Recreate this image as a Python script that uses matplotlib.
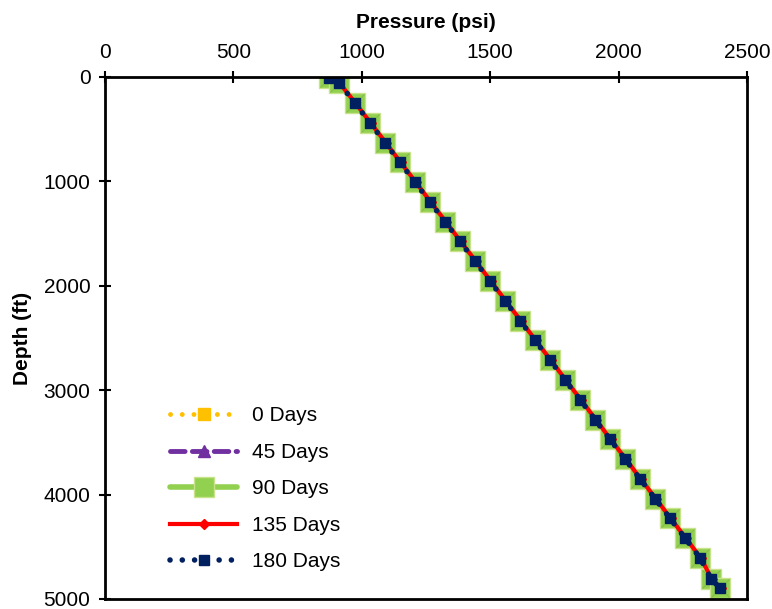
import matplotlib
matplotlib.use("Agg")
import matplotlib.pyplot as plt

plt.rcParams['font.family'] = ['Liberation Sans', 'DejaVu Sans']

# depth (ft) and pressure (psi)
depth = [10, 57, 249, 438, 628, 817, 1007, 1196, 1386, 1575, 1765, 1954, 2144,
         2333, 2523, 2712, 2902, 3091, 3281, 3470, 3660, 3849, 4039, 4228,
         4418, 4607, 4808, 4895]
p_0 = [872, 911, 973, 1031, 1090, 1148, 1207, 1265, 1324, 1382, 1441, 1499,
       1557, 1616, 1674, 1733, 1791, 1850, 1908, 1966, 2025, 2083, 2142, 2200,
       2259, 2317, 2360, 2395]
p_45 = [872, 911, 973, 1031, 1090, 1148, 1207, 1265, 1324, 1382, 1441, 1499,
        1557, 1616, 1674, 1733, 1791, 1850, 1908, 1966, 2025, 2083, 2142, 2200,
        2259, 2317, 2360, 2395]
p_90 = [872, 911, 973, 1031, 1090, 1148, 1207, 1265, 1324, 1382, 1441, 1499,
        1557, 1616, 1674, 1733, 1791, 1850, 1908, 1966, 2025, 2083, 2142, 2200,
        2259, 2317, 2360, 2395]
p_135 = [874, 913, 975, 1034, 1093, 1151, 1210, 1268, 1327, 1385, 1444, 1502,
         1560, 1619, 1677, 1736, 1794, 1853, 1911, 1969, 2028, 2086, 2145, 2203,
         2262, 2320, 2363, 2397]
p_180 = [872, 911, 973, 1031, 1090, 1148, 1207, 1265, 1324, 1382, 1441, 1499,
         1557, 1616, 1674, 1733, 1791, 1850, 1908, 1966, 2025, 2083, 2142, 2200,
         2259, 2317, 2360, 2395]

fig = plt.figure(figsize=(7.72, 6.09), dpi=100)
ax = fig.add_axes([105/772, 1 - 599/609, 642/772, 522/609])

ax.plot(p_0, depth, color='#FFC000', lw=3.5, linestyle=(0, (0.01, 2.4)),
        dash_capstyle='round', marker='s', ms=9, label='0 Days')
ax.plot(p_45, depth, color='#7030A0', lw=3.5, linestyle=(0, (3, 1.5)),
        dash_capstyle='round', marker='^', ms=9, label='45 Days')
ax.plot(p_90, depth, color='#92D050', lw=4, solid_capstyle='round',
        marker='s', ms=14.5, mfc='#92D050', mec='#C8E38C', mew=1,
        label='90 Days')
ax.plot(p_90, depth, linestyle='none', marker='x', ms=13, mec='#84BD48', mew=0.8)
ax.plot(p_135, depth, color='#FF0000', lw=3, marker='D', ms=5,
        label='135 Days')
ax.plot(p_180, depth, color='#002060', lw=4, linestyle=(0, (0.01, 2.2)),
        dash_capstyle='round', marker='s', ms=7, label='180 Days')

ax.set_xlim(0, 2500)
ax.set_ylim(5000, 0)
ax.set_xticks([0, 500, 1000, 1500, 2000, 2500])
ax.set_yticks([0, 1000, 2000, 3000, 4000, 5000])
ax.xaxis.tick_top()
ax.xaxis.set_label_position('top')
ax.tick_params(axis='both', direction='inout', length=9, width=1.5,
               labelsize=15, pad=6)
ax.set_xlabel('Pressure (psi)', fontsize=15, fontweight='bold', labelpad=11)
ax.set_ylabel('Depth (ft)', fontsize=15, fontweight='bold', labelpad=8)
for s in ax.spines.values():
    s.set_linewidth(2)

ax.legend(loc='upper left', bbox_to_anchor=(160/772, 1 - 396/609),
          bbox_transform=fig.transFigure, frameon=False, fontsize=15,
          handlelength=3.2, labelspacing=0.84, borderpad=0, numpoints=1,
          handletextpad=0.7)

fig.savefig('out.png', dpi=100)
